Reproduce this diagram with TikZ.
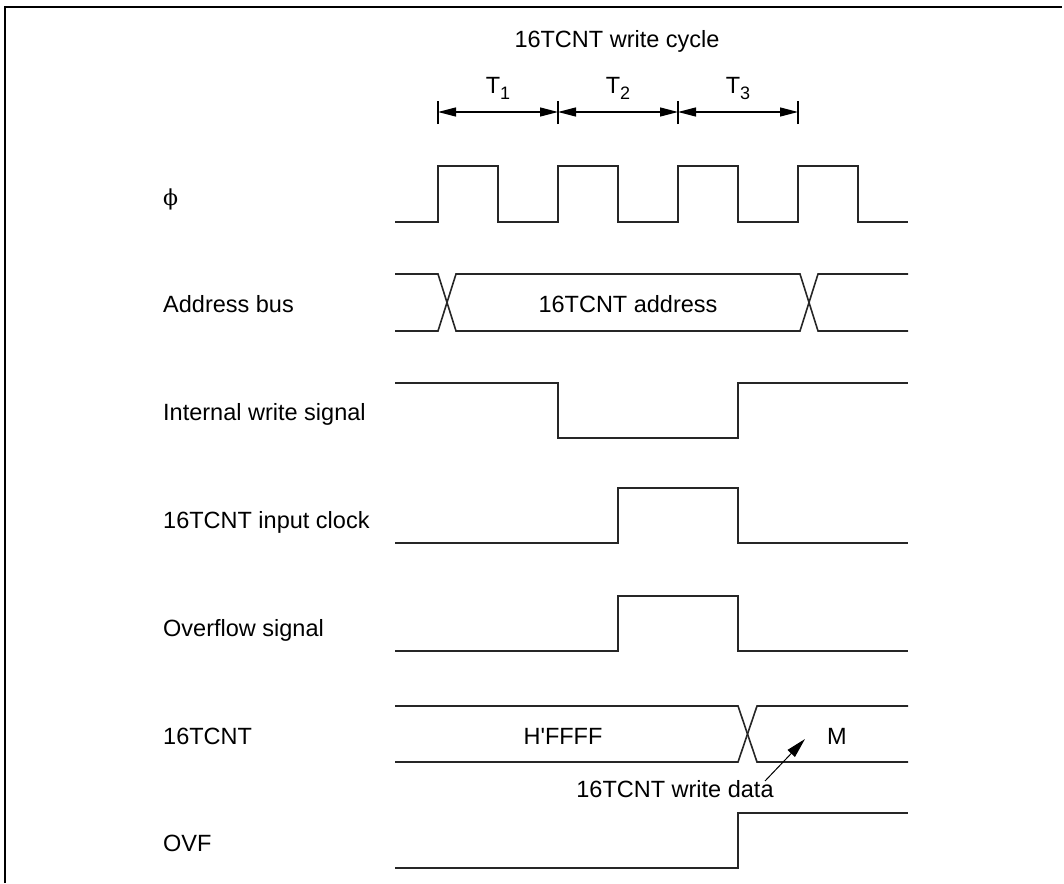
\documentclass[tikz,border=0pt]{standalone}
\usepackage{fontspec}
\setmainfont{Liberation Sans}
\newfontfamily\phifont{DejaVu Serif}
\usetikzlibrary{arrows.meta}
\begin{document}
\begin{tikzpicture}[x=1pt,y=-1pt,
 sig/.style={line width=1.6pt, line join=miter, color=black!85},
 lbl/.style={anchor=base west, inner sep=0pt, font=\fontsize{23.5}{27}\selectfont},
 txt/.style={anchor=base, inner sep=0pt, font=\fontsize{23.5}{27}\selectfont},
 tick/.style={line width=1.3pt},
 dimarrow/.style={line width=1.3pt, {Triangle[length=18pt,width=9pt]}-{Triangle[length=18pt,width=9pt]}},
 ptr/.style={line width=1pt, -{Triangle[length=20pt,width=10pt]}},
]
\useasboundingbox (0,0) rectangle (1064,883);
\draw[line width=2.5pt] (5,883) -- (5,7) -- (1062,7);

% title and T periods
\node[txt] (title) at (617,48) {16TCNT write cycle};
\node[txt] (t1) at (498,93) {T\raisebox{-6pt}{\fontsize{18}{18}\selectfont 1}};
\node[txt] (t2) at (618,93) {T\raisebox{-6pt}{\fontsize{18}{18}\selectfont 2}};
\node[txt] (t3) at (738,93) {T\raisebox{-6pt}{\fontsize{18}{18}\selectfont 3}};
\coordinate (k0) at (438,112);
\coordinate (k1) at (558,112);
\coordinate (k2) at (678,112);
\coordinate (k3) at (798,112);
\foreach \k in {k0,k1,k2,k3} \draw[tick] ([yshift=-12pt]\k) -- ([yshift=11pt]\k);
\draw[dimarrow] (k0) -- (k1);
\draw[dimarrow] (k1) -- (k2);
\draw[dimarrow] (k2) -- (k3);

% labels
\node[lbl] (lphi) at (163,205) {\phifont\fontsize{22}{26}\selectfont ϕ};
\node[lbl] (laddr) at (163,312) {Address bus};
\node[lbl] (lwr) at (163,420) {Internal write signal};
\node[lbl] (lclk) at (163,528) {16TCNT input clock};
\node[lbl] (lovs) at (163,636) {Overflow signal};
\node[lbl] (lcnt) at (163,744) {16TCNT};
\node[lbl] (lovf) at (163,851) {OVF};

% phi clock
\draw[sig] (395,222) -- (438,222) -- (438,166) -- (498,166) -- (498,222) -- (558,222) -- (558,166) -- (618,166) -- (618,222) -- (678,222) -- (678,166) -- (738,166) -- (738,222) -- (798,222) -- (798,166) -- (858,166) -- (858,222) -- (908,222);

% address bus
\draw[sig] (395,274) -- (438,274) -- (456,331) -- (800,331) -- (818,274) -- (908,274);
\draw[sig] (395,331) -- (438,331) -- (456,274) -- (800,274) -- (818,331) -- (908,331);
\node[txt] (addr) at (628,312) {16TCNT address};

% internal write signal
\draw[sig] (395,383) -- (558,383) -- (558,438) -- (738,438) -- (738,383) -- (908,383);

% input clock
\draw[sig] (395,543) -- (618,543) -- (618,488) -- (738,488) -- (738,543) -- (908,543);

% overflow signal
\draw[sig] (395,651) -- (618,651) -- (618,596) -- (738,596) -- (738,651) -- (908,651);

% 16TCNT
\draw[sig] (395,706) -- (738,706) -- (757,762) -- (908,762);
\draw[sig] (395,762) -- (738,762) -- (757,706) -- (908,706);
\node[txt] (ffff) at (563,744) {H\textquotesingle FFFF};
\node[txt] (m) at (837,744) {M};
\node[txt] (wd) at (675,797) {16TCNT write data};
\coordinate (ws) at (765,781);
\coordinate (wt) at (805,739);
\draw[ptr] (ws) -- (wt);

% OVF
\draw[sig] (395,868) -- (738,868) -- (738,813) -- (908,813);
\end{tikzpicture}
\end{document}
